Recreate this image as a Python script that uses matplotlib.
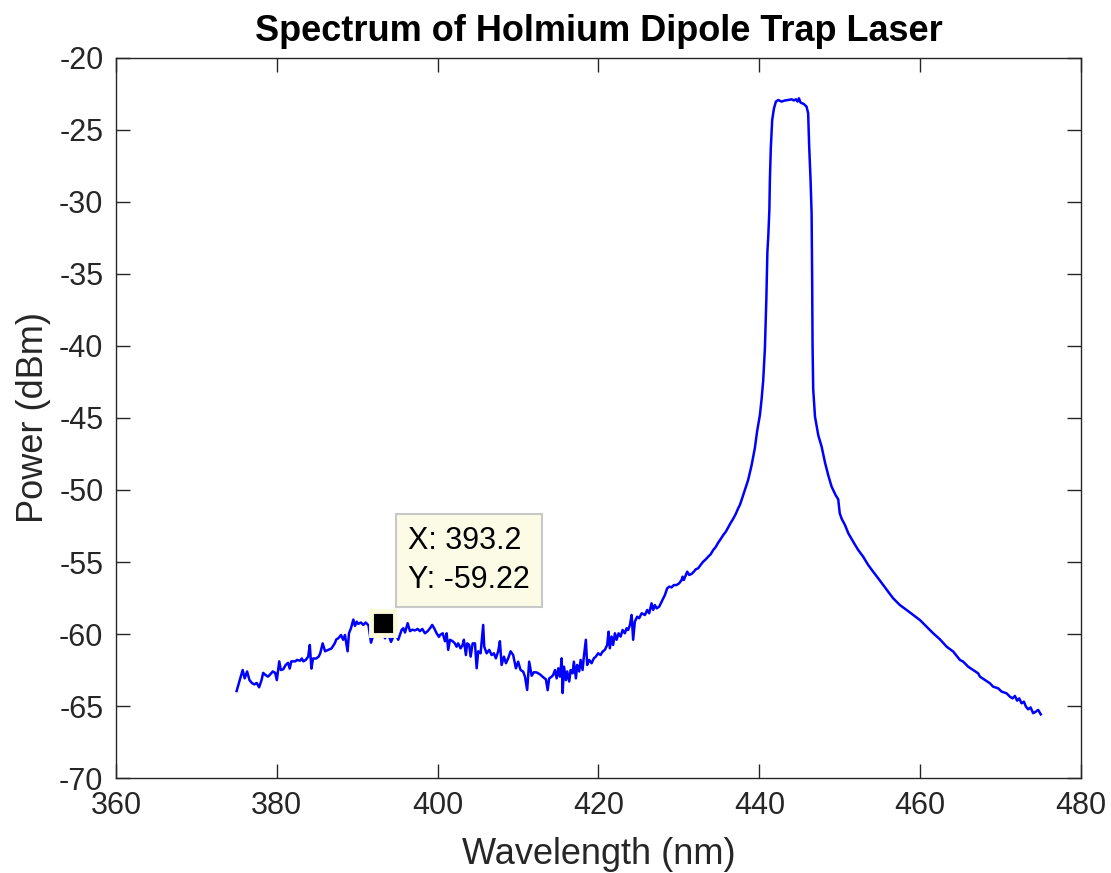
import matplotlib.pyplot as plt
import numpy as np

plt.rcParams['font.family'] = ['Liberation Sans', 'DejaVu Sans']
plt.rcParams['axes.unicode_minus'] = False

# measured spectrum: wavelength (nm) and power (dBm)
wavelength = [
    375.0, 375.4, 375.75, 376.0, 376.3, 376.6, 376.9, 377.2, 377.5, 377.8,
    378.1, 378.3, 378.6, 378.9, 379.1, 379.5, 379.8, 380.0, 380.3, 380.5,
    380.8, 381.1, 381.4, 381.6, 381.8, 382.3, 382.5, 382.9, 383.1, 383.3,
    383.6, 383.9, 384.1, 384.3, 384.5, 384.9, 385.2, 385.4, 385.7, 386.0,
    386.4, 386.8, 387.2, 387.4, 387.64, 387.98, 388.25, 388.47, 388.8, 388.97,
    389.22, 389.51, 389.72, 389.93, 390.12, 390.46, 390.75, 391.05, 391.4, 391.71,
    392.2, 392.8, 393.2, 393.45, 393.8, 394.2, 394.69, 395.1, 395.53, 395.73,
    395.94, 396.27, 396.56, 396.84, 397.18, 397.52, 397.8, 398.09, 398.42, 398.76,
    399.05, 399.32, 399.57, 399.87, 400.16, 400.29, 400.63, 400.91, 401.12, 401.31,
    401.53, 401.86, 402.14, 402.35, 402.55, 402.85, 403.1, 403.26, 403.51, 403.67,
    403.92, 404.1, 404.35, 404.64, 404.85, 405.04, 405.34, 405.66, 405.79, 406.09,
    406.41, 406.71, 406.99, 407.24, 407.53, 407.74, 407.95, 408.24, 408.49, 408.77,
    409.07, 409.39, 409.73, 410.01, 410.31, 410.63, 410.86, 411.13, 411.38, 411.69,
    411.97, 412.31, 412.72, 413.12, 413.46, 413.68, 413.87, 414.18, 414.36, 414.59,
    414.8, 415.0, 415.21, 415.42, 415.54, 415.71, 415.95, 416.11, 416.36, 416.54,
    416.78, 416.94, 417.19, 417.35, 417.6, 417.78, 418.02, 418.18, 418.43, 418.59,
    418.84, 419.14, 419.42, 419.67, 419.96, 420.26, 420.51, 420.79, 421.08, 421.25,
    421.41, 421.63, 421.82, 422.04, 422.25, 422.5, 422.75, 423.0, 423.28, 423.49,
    423.69, 423.91, 424.12, 424.31, 424.52, 424.81, 425.06, 425.37, 425.77, 426.06,
    426.3, 426.6, 426.8, 427.01, 427.23, 427.55, 427.85, 428.26, 428.54, 428.79,
    429.09, 429.37, 429.71, 430.03, 430.33, 430.45, 430.61, 430.86, 431.03, 431.28,
    431.57, 431.86, 432.11, 432.39, 432.69, 433.01, 433.35, 433.64, 433.94, 434.26,
    434.6, 434.88, 435.18, 435.51, 435.84, 436.13, 436.42, 436.75, 437.08, 437.37,
    437.58, 437.79, 438.2, 438.61, 439.03, 439.44, 439.73, 440.07, 440.28, 440.48,
    440.6, 440.69, 440.87, 441.0, 441.12, 441.25, 441.31, 441.43, 441.6, 441.82,
    442.06, 442.35, 442.77, 443.18, 443.59, 444.01, 444.3, 444.55, 444.76, 444.92,
    445.13, 445.54, 445.87, 446.07, 446.2, 446.37, 446.5, 446.57, 446.62, 446.7,
    446.92, 447.33, 447.75, 448.17, 448.58, 448.99, 449.48, 449.81, 450.0, 450.24,
    450.65, 451.06, 451.67, 452.3, 452.91, 453.53, 454.15, 454.78, 455.4, 456.02,
    456.64, 457.48, 458.31, 459.13, 459.97, 460.8, 461.62, 462.46, 463.29, 464.11,
    464.94, 465.35, 465.97, 466.59, 467.21, 467.43, 468.05, 468.67, 469.08, 469.7,
    470.13, 470.75, 471.16, 471.49, 471.78, 472.06, 472.31, 472.61, 472.9, 473.15,
    473.43, 473.73, 474.05, 474.39, 474.67, 475.0,
]
power = [
    -63.96, -63.19, -62.5, -63.08, -62.6, -63.2, -63.4, -63.5, -63.4, -63.7,
    -63.2, -62.7, -62.85, -62.96, -62.85, -62.6, -62.7, -63.2, -61.9, -62.5,
    -62.45, -62.15, -62.0, -62.4, -61.9, -61.9, -61.8, -61.85, -61.7, -61.9,
    -61.8, -61.57, -60.76, -62.4, -61.7, -61.7, -61.57, -61.34, -60.65, -61.2,
    -61.1, -61.0, -60.65, -60.37, -60.3, -60.07, -60.4, -60.07, -61.2, -59.95,
    -59.6, -59.0, -59.44, -59.14, -59.3, -59.2, -59.37, -59.2, -59.4, -60.6,
    -59.7, -59.5, -59.22, -60.3, -59.9, -60.55, -59.9, -60.4, -59.7, -59.6,
    -59.9, -59.25, -59.8, -59.7, -59.75, -59.65, -59.8, -59.65, -59.95, -59.8,
    -59.6, -59.37, -59.6, -59.95, -60.2, -60.07, -59.95, -60.5, -59.95, -61.1,
    -60.4, -60.5, -60.65, -60.88, -60.65, -61.0, -60.76, -60.4, -61.46, -60.65,
    -60.76, -61.57, -60.65, -60.65, -62.38, -61.2, -61.34, -59.37, -60.88, -61.34,
    -61.1, -61.46, -61.34, -61.69, -61.2, -60.5, -62.15, -61.57, -62.03, -61.69,
    -61.2, -61.46, -62.38, -61.92, -62.5, -62.61, -62.96, -63.89, -61.92, -62.9,
    -62.65, -62.67, -62.8, -63.0, -63.15, -63.9, -63.08, -62.96, -62.85, -62.5,
    -63.08, -62.38, -62.96, -61.69, -64.1, -62.27, -63.2, -62.6, -63.3, -62.5,
    -62.73, -61.92, -63.08, -62.15, -62.6, -61.8, -62.5, -61.57, -60.4, -62.15,
    -61.8, -62.03, -61.69, -61.57, -61.34, -61.46, -61.22, -61.1, -60.76, -59.84,
    -60.99, -60.18, -60.76, -59.95, -60.4, -59.95, -60.18, -59.72, -59.95, -59.6,
    -59.72, -59.37, -58.68, -60.4, -59.14, -58.8, -58.9, -58.56, -58.68, -58.33,
    -58.56, -57.87, -58.33, -57.99, -58.22, -58.1, -57.76, -57.29, -56.83, -56.71,
    -56.76, -56.6, -56.6, -56.48, -56.25, -56.02, -56.25, -55.9, -55.67, -55.9,
    -55.83, -55.67, -55.5, -55.44, -55.21, -54.98, -54.81, -54.63, -54.47, -54.17,
    -53.94, -53.66, -53.42, -53.13, -52.89, -52.6, -52.3, -52.0, -51.65, -51.27,
    -51.04, -50.7, -50.0, -49.3, -48.3, -47.1, -45.9, -44.8, -43.7, -42.4,
    -41.2, -40.2, -36.8, -33.5, -32.3, -30.5, -28.5, -26.2, -24.3, -23.5,
    -23.03, -22.92, -23.03, -22.95, -22.92, -22.87, -22.95, -22.87, -23.03, -22.8,
    -23.1, -23.2, -23.38, -23.84, -26.16, -28.47, -30.79, -35.42, -40.05, -43.0,
    -44.9, -46.2, -47.0, -48.1, -49.0, -49.77, -50.35, -50.65, -51.62, -52.0,
    -52.43, -53.0, -53.59, -54.17, -54.63, -55.2, -55.67, -56.13, -56.6, -57.06,
    -57.52, -57.99, -58.33, -58.68, -59.03, -59.49, -59.95, -60.37, -60.88, -61.22,
    -61.8, -61.92, -62.27, -62.5, -62.73, -62.96, -63.19, -63.42, -63.66, -63.77,
    -64.0, -64.12, -64.35, -64.47, -64.3, -64.63, -64.47, -64.81, -64.7, -65.04,
    -65.23, -65.1, -65.5, -65.39, -65.27, -65.58,
]

# data cursor point
tip_x = 393.2
tip_y = -59.22

xticks = np.arange(360, 481, 20)
yticks = np.arange(-70, -19, 5)

axis_col = '#262626'

fig = plt.figure(figsize=(11.11, 8.73), dpi=100)
ax = fig.add_axes([0.1044, 0.1088, 0.8686, 0.8248])

ax.plot(wavelength, power, color='#0000ff', linewidth=1.8)

ax.set_xlim(360, 480)
ax.set_ylim(-70, -20)
ax.set_xticks(xticks)
ax.set_yticks(yticks)
ax.tick_params(direction='in', length=10, width=1.0, top=True, right=True,
               labelsize=22, colors=axis_col, pad=9)
for sp in ax.spines.values():
    sp.set_color(axis_col)
    sp.set_linewidth(1.0)

ax.set_xlabel('Wavelength (nm)', fontsize=26, color=axis_col, labelpad=12)
ax.set_ylabel('Power (dBm)', fontsize=26, color=axis_col, labelpad=6)
ax.set_title('Spectrum of Holmium Dipole Trap Laser', fontsize=26,
             fontweight='bold', color='black', pad=12)

# datatip marker and label
ax.plot([tip_x], [tip_y], marker='s', markersize=17, color='black',
        markeredgecolor='#fbfbdc', markeredgewidth=3.5, zorder=5)
ax.annotate(f'X: {tip_x}\nY: {tip_y}', xy=(tip_x, tip_y),
            xytext=(18, 20), textcoords='offset points',
            ha='left', va='bottom', fontsize=22, color='black',
            linespacing=1.4, zorder=6,
            bbox=dict(boxstyle='square,pad=0.4', fc='#fbfbe6',
                      ec='#c8c8c8', lw=1.5))

fig.savefig('out.png', dpi=100)
